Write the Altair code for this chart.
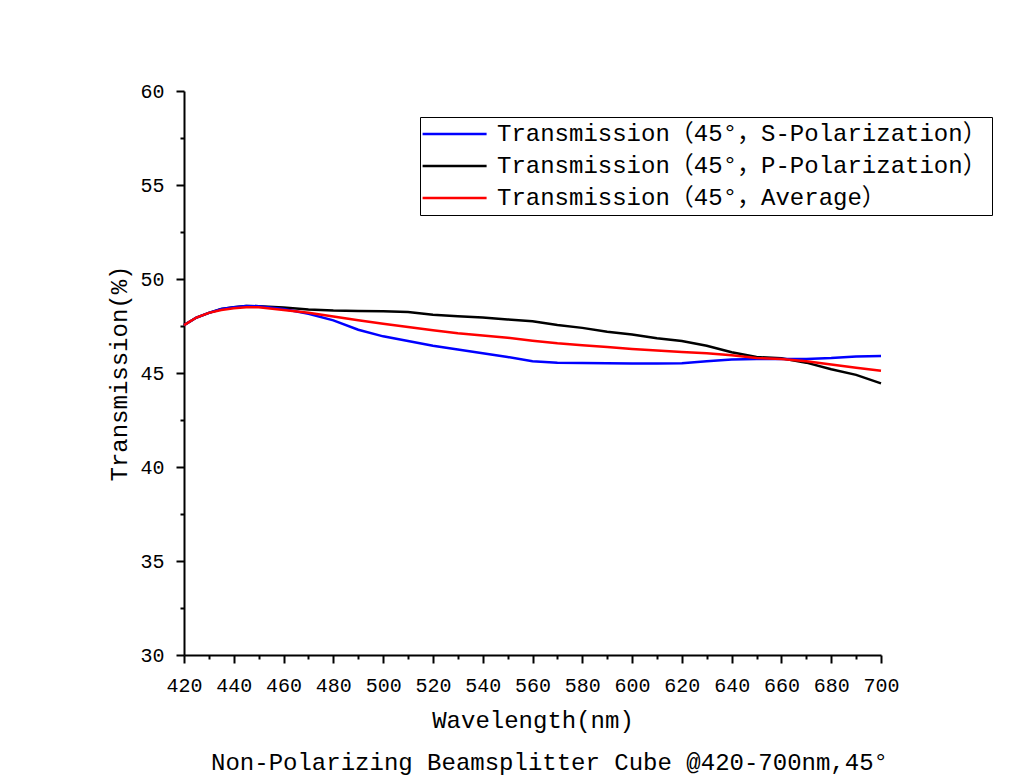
import altair as alt
import pandas as pd

wavelength = [420, 425, 430, 435, 440, 445, 450, 460, 470, 480, 490, 500, 510, 520,
              530, 540, 550, 560, 570, 580, 590, 600, 610, 620, 630, 640, 650, 660,
              670, 680, 690, 700]
s_pol = [47.55, 47.95, 48.2, 48.4, 48.5, 48.57, 48.55, 48.4, 48.15, 47.8, 47.3, 46.95,
         46.7, 46.45, 46.25, 46.05, 45.85, 45.62, 45.55, 45.53, 45.52, 45.5, 45.5, 45.52,
         45.62, 45.72, 45.75, 45.75, 45.75, 45.8, 45.88, 45.9]
p_pol = [47.55, 47.95, 48.2, 48.4, 48.5, 48.57, 48.55, 48.48, 48.38, 48.32, 48.3, 48.28,
         48.24, 48.1, 48.02, 47.95, 47.85, 47.75, 47.55, 47.4, 47.2, 47.05, 46.85, 46.7,
         46.45, 46.1, 45.85, 45.78, 45.55, 45.2, 44.9, 44.45]
average = [47.55, 47.95, 48.2, 48.35, 48.45, 48.5, 48.5, 48.35, 48.2, 48.0, 47.8, 47.62,
           47.45, 47.28, 47.12, 47.0, 46.88, 46.72, 46.58, 46.48, 46.38, 46.28, 46.2, 46.12,
           46.05, 45.95, 45.8, 45.75, 45.62, 45.45, 45.28, 45.12]

series_names = ["Transmission（45°，S-Polarization）",
                "Transmission（45°，P-Polarization）",
                "Transmission（45°，Average）"]
series_colors = ["#0000ff", "#000000", "#ff0000"]

x_ticks = list(range(420, 701, 10))
y_ticks = [30 + 2.5 * i for i in range(13)]

rows = []
for name, vals in zip(series_names, [s_pol, p_pol, average]):
    for w, v in zip(wavelength, vals):
        rows.append({"wl": w, "T": v, "series": name})
df = pd.DataFrame(rows)

FONT = "Liberation Mono, Noto Sans CJK SC"

x_enc = alt.X(
    "wl:Q",
    scale=alt.Scale(domain=[420, 700], nice=False, zero=False),
    axis=alt.Axis(
        title="Wavelength(nm)", values=x_ticks,
        labelExpr="datum.value % 20 === 0 ? datum.label : ''",
        tickSize={"condition": {"test": "datum.value % 20 === 0", "value": 8}, "value": 4},
        labelOverlap=False, labelFlush=False, labelPadding=12, titlePadding=13,
    ),
)
y_enc = alt.Y(
    "T:Q",
    scale=alt.Scale(domain=[30, 60], nice=False, zero=False),
    axis=alt.Axis(
        title="Transmission(%)", values=y_ticks,
        labelExpr="datum.value % 5 === 0 ? datum.label : ''",
        tickSize={"condition": {"test": "datum.value % 5 === 0", "value": 8}, "value": 4},
        labelOverlap=False, labelFlush=False, labelPadding=12, titlePadding=8,
    ),
)
color_enc = alt.Color(
    "series:N",
    scale=alt.Scale(domain=series_names, range=series_colors),
    legend=alt.Legend(
        title=None, orient="none", legendX=236, legendY=26,
        symbolType="M-1.8,0H6.2", symbolSize=256, symbolStrokeWidth=2.5,
        labelFont=FONT, labelFontSize=24, labelLimit=800, labelOffset=48,
        strokeColor="black", padding=5, rowPadding=8,
    ),
)

base = alt.Chart(df).mark_line(strokeWidth=2.5).encode(x=x_enc, y=y_enc, color=color_enc)
layers = [base.transform_filter(alt.datum.series == n) for n in
          [series_names[1], series_names[0], series_names[2]]]

chart = alt.layer(*layers).properties(
    width=697, height=564,
    autosize=alt.AutoSizeParams(type="none"),
    padding={"left": 176, "top": 83, "right": 135, "bottom": 121},
    title=alt.TitleParams(
        "Non-Polarizing Beamsplitter Cube @420-700nm,45°",
        orient="bottom", anchor="middle", font=FONT, fontSize=24,
        fontWeight="normal", color="black", offset=19, dx=17,
    ),
).configure_view(stroke=None).configure_axis(
    domainColor="black", domainWidth=2, tickColor="black", tickWidth=2,
    labelFont=FONT, labelFontSize=20, labelColor="black",
    titleFont=FONT, titleFontSize=24, titleFontWeight="normal", titleColor="black",
    grid=False,
)

chart.save("out.html", embed_options={"renderer": "svg", "actions": False})
